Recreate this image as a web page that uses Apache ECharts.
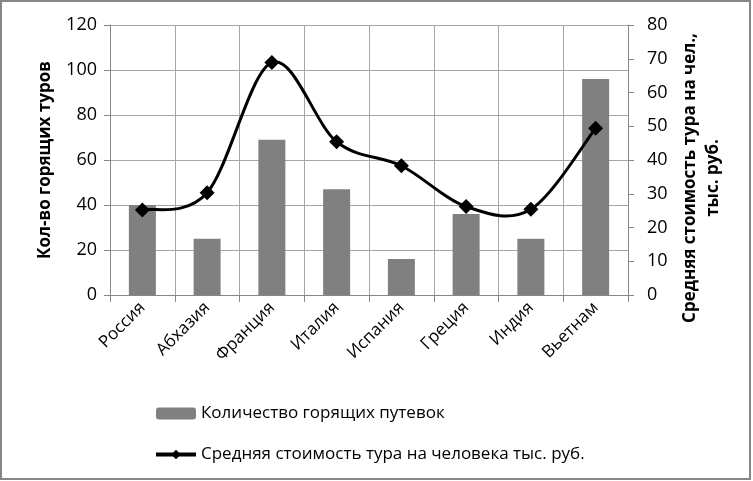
<!DOCTYPE html>
<html>
<head>
<meta charset="utf-8">
<script src="https://cdn.jsdelivr.net/npm/echarts@6/dist/echarts.min.js"></script>
<style>html,body{margin:0;padding:0;background:#fff}#c{width:753px;height:481px}</style>
</head>
<body>
<div id="c"></div>
<script>
var categories = ['Россия', 'Абхазия', 'Франция', 'Италия', 'Испания', 'Греция', 'Индия', 'Вьетнам'];
var hotTours = [40, 25, 69, 47, 16, 36, 25, 96];
var avgCost = [25.2, 30.3, 68.9, 45.4, 38.3, 26.2, 25.4, 49.4];
var leftTicks = {min: 0, max: 120, interval: 20};
var rightTicks = {min: 0, max: 80, interval: 10};
var barName = 'Количество горящих путевок';
var lineName = 'Средняя стоимость тура на человека тыс. руб.';
var leftTitle = 'Кол-во горящих туров';
var rightTitle = 'Средняя стоимость тура на чел.,\nтыс. руб.';

var FONT = 'Open Sans';
var chart = echarts.init(document.getElementById('c'), null, {renderer: 'canvas'});
var gridColor = '#a6a6a6';
var axisColor = '#868686';

// Excel-style smoothed curve (Catmull-Rom Bezier) through the points, via the chart's own scales
function renderCurve(params, api) {
  if (params.dataIndex !== 0) return null;
  var pts = avgCost.map(function (v, i) { return api.coord([i, v]); });
  var n = pts.length;
  var d = 'M' + pts[0][0] + ' ' + pts[0][1];
  for (var i = 0; i < n - 1; i++) {
    var p0 = pts[Math.max(i - 1, 0)], p1 = pts[i], p2 = pts[i + 1], p3 = pts[Math.min(i + 2, n - 1)];
    var c1x = p1[0] + (p2[0] - p0[0]) / 6, c1y = p1[1] + (p2[1] - p0[1]) / 6;
    var c2x = p2[0] - (p3[0] - p1[0]) / 6, c2y = p2[1] - (p3[1] - p1[1]) / 6;
    d += ' C' + c1x + ' ' + c1y + ' ' + c2x + ' ' + c2y + ' ' + p2[0] + ' ' + p2[1];
  }
  return {
    type: 'path',
    shape: {pathData: d},
    style: {fill: 'none', stroke: '#000', lineWidth: 3}
  };
}

chart.setOption({
  animation: false,
  backgroundColor: '#fff',
  textStyle: {fontFamily: FONT},
  grid: {left: 110, right: 125, top: 25, bottom: 186, containLabel: false},
  legend: {
    orient: 'vertical', left: 149, top: 400, itemWidth: 40, itemHeight: 12, itemGap: 24,
    textStyle: {fontFamily: FONT, fontSize: 17, color: '#000'},
    data: [barName, {name: lineName, lineStyle: {color: '#000', width: 4, opacity: 1}}]
  },
  xAxis: {
    type: 'category', data: categories, boundaryGap: true,
    axisLine: {lineStyle: {color: axisColor, width: 1}},
    axisTick: {show: true, length: 7, lineStyle: {color: axisColor}},
    splitLine: {show: true, lineStyle: {color: gridColor, width: 1}},
    axisLabel: {rotate: 45, fontFamily: FONT, fontSize: 17, color: '#000', margin: 10, interval: 0}
  },
  yAxis: [{
    type: 'value', min: leftTicks.min, max: leftTicks.max, interval: leftTicks.interval,
    axisLine: {show: true, lineStyle: {color: axisColor}},
    axisTick: {show: true, length: 6, lineStyle: {color: axisColor}},
    splitLine: {show: true, lineStyle: {color: gridColor}},
    axisLabel: {fontFamily: FONT, fontSize: 18, color: '#000', margin: 13}
  }, {
    type: 'value', min: rightTicks.min, max: rightTicks.max, interval: rightTicks.interval,
    position: 'right',
    axisLine: {show: true, lineStyle: {color: axisColor}},
    axisTick: {show: true, length: 6, lineStyle: {color: axisColor}},
    splitLine: {show: false},
    axisLabel: {fontFamily: FONT, fontSize: 18, color: '#000', margin: 19}
  }],
  series: [{
    name: barName, type: 'bar', yAxisIndex: 0, data: hotTours,
    barWidth: 27, itemStyle: {color: '#808080'}
  }, {
    name: lineName, type: 'line', yAxisIndex: 1, data: avgCost,
    symbol: 'diamond', symbolSize: 15,
    lineStyle: {color: '#000', width: 3, opacity: 0}, itemStyle: {color: '#000'}, z: 6
  }, {
    name: 'curve', type: 'custom', yAxisIndex: 1, z: 5, silent: true,
    data: avgCost.map(function (v, i) { return [i, v]; }),
    renderItem: renderCurve
  }],
  graphic: [{
    type: 'rect', shape: {x: 1, y: 1, width: 749, height: 478},
    style: {fill: 'none', stroke: '#868686', lineWidth: 2}, silent: true
  }, {
    type: 'text', x: 45, y: 160, rotation: Math.PI / 2,
    style: {text: leftTitle, fontFamily: FONT, fontSize: 17, fontWeight: 'bold', fill: '#000',
      textAlign: 'center', textVerticalAlign: 'middle'}
  }, {
    type: 'text', x: 702, y: 178, rotation: Math.PI / 2,
    style: {text: rightTitle, fontFamily: FONT, fontSize: 17, fontWeight: 'bold', fill: '#000',
      textAlign: 'center', textVerticalAlign: 'middle', lineHeight: 23}
  }]
});
</script>
</body>
</html>
